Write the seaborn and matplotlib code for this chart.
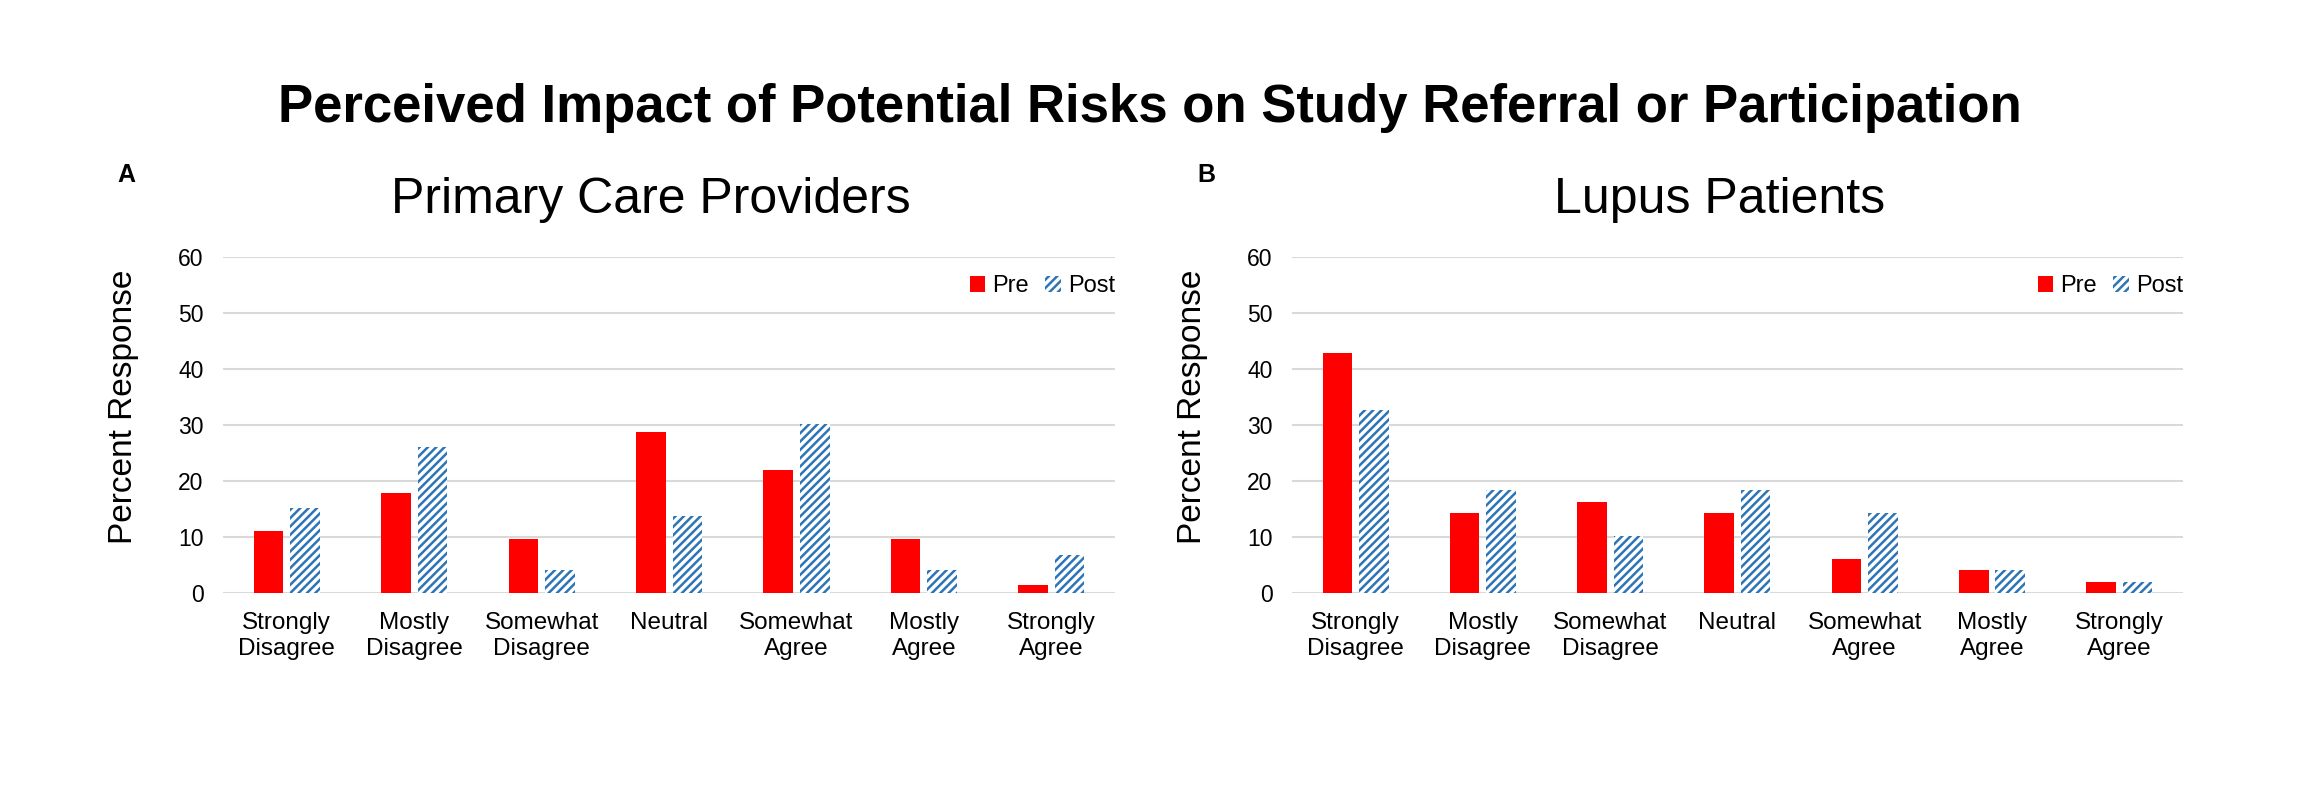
"""Pre/post survey bars: perceived impact of potential risks (providers vs lupus patients)."""

import matplotlib.pyplot as plt
import pandas as pd
import seaborn as sns

# response categories along the x axis
categories = [
    "Strongly\nDisagree",
    "Mostly\nDisagree",
    "Somewhat\nDisagree",
    "Neutral",
    "Somewhat\nAgree",
    "Mostly\nAgree",
    "Strongly\nAgree",
]
phases = ["Pre", "Post"]

# percent response
pcp_pre = [11.0, 17.8, 9.6, 28.8, 21.9, 9.6, 1.4]
pcp_post = [15.1, 26.0, 4.1, 13.7, 30.1, 4.1, 6.8]
lupus_pre = [42.9, 14.3, 16.3, 14.3, 6.1, 4.1, 2.0]
lupus_post = [32.7, 18.4, 10.2, 18.4, 14.3, 4.1, 2.0]

panels = [
    ("A", "Primary Care Providers", pcp_pre, pcp_post),
    ("B", "Lupus Patients", lupus_pre, lupus_post),
]
y_ticks = [0, 10, 20, 30, 40, 50, 60]

PRE_COLOR = "#FF0000"
POST_COLOR = "#2E75B6"
GRID_COLOR = "#D9D9D9"


def to_long(pre, post):
    rows = []
    for cat, pre_val, post_val in zip(categories, pre, post):
        rows.append({"category": cat, "phase": "Pre", "percent": pre_val})
        rows.append({"category": cat, "phase": "Post", "percent": post_val})
    return pd.DataFrame(rows)


def draw_panel(ax, title, pre, post):
    data = to_long(pre, post)
    sns.barplot(
        data=data,
        x="category",
        y="percent",
        hue="phase",
        hue_order=phases,
        order=categories,
        palette={"Pre": PRE_COLOR, "Post": "white"},
        saturation=1,
        width=0.573,
        gap=0.19,
        linewidth=0,
        errorbar=None,
        legend=False,
        ax=ax,
    )
    # hatched blue for the post survey bars
    for bar in ax.containers[1]:
        bar.set_facecolor("white")
        bar.set_edgecolor(POST_COLOR)
        bar.set_hatch("////")
        bar.set_linewidth(0)

    ax.set_ylim(0, 60)
    ax.set_yticks(y_ticks)
    ax.set_xlim(-0.5, len(categories) - 0.5)
    ax.set_xlabel("")
    ax.set_ylabel("Percent Response", fontsize=24, labelpad=28)
    ax.yaxis.label.set_y(0.553)
    ax.set_title(title, fontsize=36, pad=32, x=0.48)
    ax.set_axisbelow(True)
    ax.yaxis.grid(True, color=GRID_COLOR, linewidth=1.5)
    ax.xaxis.grid(False)
    for spine in ax.spines.values():
        spine.set_visible(False)
    ax.tick_params(axis="y", length=0, pad=14, labelsize=16.5)
    ax.tick_params(axis="x", length=0, pad=14, labelsize=17.5)

    ax.legend(
        handles=[ax.containers[0], ax.containers[1]],
        labels=phases,
        loc="upper right",
        bbox_to_anchor=(1.0, 0.945),
        ncol=2,
        frameon=False,
        fontsize=17,
        handlelength=0.65,
        handleheight=0.65,
        handletextpad=0.3,
        columnspacing=0.7,
        borderpad=0,
        borderaxespad=0,
    )


def main():
    sns.set_theme(style="white")
    plt.rcParams["font.family"] = ["Liberation Sans", "DejaVu Sans"]
    plt.rcParams["hatch.linewidth"] = 1.8
    for key in ["text.color", "axes.labelcolor", "xtick.color", "ytick.color"]:
        plt.rcParams[key] = "black"

    fig, axes = plt.subplots(1, 2, figsize=(23, 8), dpi=100)
    axes[0].set_position([0.0970, 0.25875, 0.3878, 0.42])
    axes[1].set_position([0.5617, 0.25875, 0.3874, 0.42])

    for ax, (letter, title, pre, post) in zip(axes, panels):
        draw_panel(ax, title, pre, post)

    fig.text(0.5, 1 - 122 / 800, "Perceived Impact of Potential Risks on Study Referral or Participation",
             ha="center", va="baseline", fontsize=38, fontweight="bold")
    fig.text(126 / 2300, 1 - 175 / 800, "A", ha="center", va="center", fontsize=18, fontweight="bold")
    fig.text(1206 / 2300, 1 - 175 / 800, "B", ha="center", va="center", fontsize=18, fontweight="bold")

    fig.savefig("out.png", dpi=100, facecolor="white")
    plt.close(fig)


if __name__ == "__main__":
    main()
